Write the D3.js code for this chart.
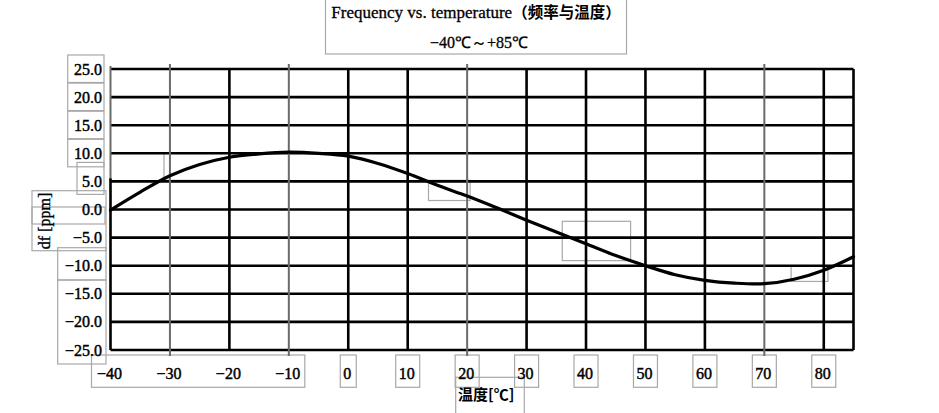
<!DOCTYPE html>
<html><head><meta charset="utf-8">
<script src="https://cdn.jsdelivr.net/npm/d3@7"></script>
<style>body{margin:0;background:#fff}svg{display:block}</style>
</head><body><svg id="c" width="939" height="413"></svg>
<script>
// ---- data ----
const temps    = [-40,-35,-30,-25,-20,-15,-10,-5,0,5,10,15,20,25,30,35,40,45,50,55,60,65,70,75,80,85];
const dfValues = [-0.1,3.1,6.0,8.0,9.3,9.9,10.2,10.0,9.5,8.2,6.4,4.3,2.4,0.3,-1.9,-4.0,-6.1,-8.2,-10.0,-11.6,-12.6,-13.1,-13.2,-12.4,-10.8,-8.4];
const xTickValues = [-40,-30,-20,-10,0,10,20,30,40,50,60,70,80];
const yTickValues = [25,20,15,10,5,0,-5,-10,-15,-20,-25];
const fadedXTicks = [-30,-10,20,70];
const titleLatin = "Frequency vs. temperature";
const titleCJK = "（频率与温度）";
const subtitle = "−40℃～+85℃";
const xTitle = "温度[℃]";
const yTitle = "df [ppm]";

// ---- layout ----
const svg = d3.select("#c");
const x = d3.scaleLinear().domain([-40,85]).range([110.5,853.5]);
const y = d3.scaleLinear().domain([-25,25]).range([350,69]);
const serif = "'Liberation Serif','Times New Roman',serif";
const cjk = "'Noto Sans CJK SC',sans-serif";
const boxColor = "#a8a8a8";
const inkStroke = 0.45;

const boxes = svg.append("g").attr("fill","none").attr("stroke",boxColor).attr("stroke-width",1.2);
function box(x0,y0,x1,y1){boxes.append("rect").attr("x",x0).attr("y",y0).attr("width",x1-x0).attr("height",y1-y0);}

// horizontal grid
const grid = svg.append("g");
grid.selectAll("line.h").data(yTickValues).join("line")
  .attr("x1",x(-40)).attr("x2",x(85))
  .attr("y1",d=>y(d)).attr("y2",d=>y(d))
  .attr("stroke","#000").attr("stroke-width",2.6);

// vertical grid
const vTicks = xTickValues.filter(d=>d!==-40).concat([85]);
grid.selectAll("line.v").data(vTicks).join("line")
  .attr("x1",d=>x(d)).attr("x2",d=>x(d))
  .attr("y1",d=>fadedXTicks.includes(d)? y(25)-5 : y(25))
  .attr("y2",d=>fadedXTicks.includes(d)? y(-25)+6 : y(-25))
  .attr("stroke",d=>fadedXTicks.includes(d)?"#6a6a6a":"#000")
  .attr("stroke-width",d=>fadedXTicks.includes(d)?2:2.6);
// left edge: faded top part, solid lower part
grid.append("line").attr("x1",x(-40)).attr("x2",x(-40)).attr("y1",y(25)-3).attr("y2",y(5))
  .attr("stroke","#6a6a6a").attr("stroke-width",2);
grid.append("line").attr("x1",x(-40)).attr("x2",x(-40)).attr("y1",y(5)-3).attr("y2",y(-25))
  .attr("stroke","#000").attr("stroke-width",2.6);

// curve
const pts = temps.map((t,i)=>[t,dfValues[i]]);
svg.append("path").datum(pts)
  .attr("d", d3.line().x(d=>x(d[0])).y(d=>y(d[1])).curve(d3.curveCatmullRom))
  .attr("fill","none").attr("stroke","#000").attr("stroke-width",3.2).attr("stroke-linecap","round");

// y tick labels
const fmtY = d3.format(".1f");
svg.append("g").selectAll("text").data(yTickValues).join("text")
  .attr("x",102).attr("y",d=>y(d)+5.5)
  .attr("text-anchor","end").attr("font-family",serif).attr("font-size",16)
  .attr("fill","#000").attr("stroke","#000").attr("stroke-width",inkStroke).text(d=>fmtY(d));

// x tick labels
const fmtX = d3.format("d");
svg.append("g").selectAll("text").data(xTickValues).join("text")
  .attr("x",d=>x(d)-1).attr("y",378.5)
  .attr("text-anchor","middle").attr("font-family",serif).attr("font-size",16)
  .attr("fill","#000").attr("stroke","#000").attr("stroke-width",inkStroke).text(d=>fmtX(d));

// titles
const t1 = svg.append("text").attr("x",476).attr("y",18).attr("text-anchor","middle").attr("fill","#000");
t1.append("tspan").attr("font-family",serif).attr("font-size",17)
  .attr("stroke","#000").attr("stroke-width",0.3).text(titleLatin);
t1.append("tspan").attr("font-family",cjk).attr("font-weight","bold").attr("font-size",15.5).text(titleCJK);
svg.append("text").attr("x",479).attr("y",48).attr("text-anchor","middle")
  .attr("font-family",serif).attr("font-size",16).attr("fill","#000")
  .attr("stroke","#000").attr("stroke-width",0.3).text(subtitle);

svg.append("text").attr("x",458).attr("y",400).attr("font-family",cjk).attr("font-weight","bold")
  .attr("font-size",15).attr("fill","#000").text(xTitle);

svg.append("text").attr("transform","translate(50,221) rotate(-90)").attr("text-anchor","middle")
  .attr("font-family",serif).attr("font-size",16).attr("fill","#000")
  .attr("stroke","#000").attr("stroke-width",0.35).text(yTitle);

// annotation boxes (scan artefacts)
box(325.5,-2,626.5,54);
[25,20,15,10].forEach(v=>box(67.7,y(v)-14,104,y(v)+13.5));
box(77,y(5)-19,104,y(5)+13);
box(32,190.7,106,250.7);
box(32,207,105,224);
box(57.7,247.7,106,280);
box(57.7,280,106,364);
box(x(-40)-19,355,x(-10)+16,387.3);
xTickValues.filter(d=>d>=0).forEach(v=>{
  const w = v===0?8:12;
  box(x(v)-w,355,x(v)+w,387.3);
});
box(455.7,377.3,524.3,415);
box(x(-31),y(10),x(-20),y(5.2));
box(x(13.5),y(5.2),x(20.5),y(1.6));
box(x(36),y(-2.1),x(47.5),y(-9.1));
box(x(74.5),y(-10.1),x(80.7),y(-12.8));
</script></body></html>
